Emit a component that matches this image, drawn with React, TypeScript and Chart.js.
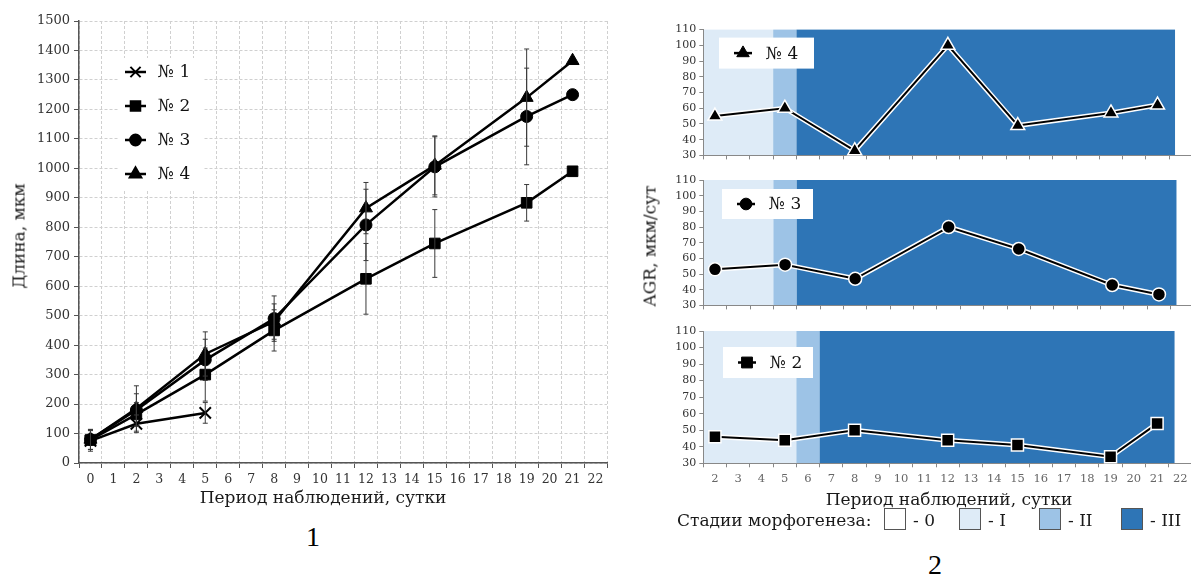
import React, { useEffect, useRef } from 'react';
import { Chart, registerables } from 'chart.js';

Chart.register(...registerables);

const FONT = "'DejaVu Serif'";

// ---------- Figure 1: length ----------
const lengthDayLabels = ['0', '1', '2', '3', '4', '5', '6', '7', '8', '9', '10', '11', '12', '13', '14', '15', '16', '17', '18', '19', '20', '21', '22'];
const seriesNames = ['№ 1', '№ 2', '№ 3', '№ 4'];
const seriesMarkers = ['crossRot', 'rect', 'circle', 'triangle'];
const seriesRadius = [8, 7.5, 6, 7.5];

const s1Days = [0, 2, 5];
const s1Length = [75, 133, 170];
const s1Err = [35, 30, 35];

const s2Days = [0, 2, 5, 8, 12, 15, 19, 21];
const s2Length = [78, 165, 300, 450, 625, 745, 883, 990];
const s2Err = [32, 40, 90, 70, 120, 115, 62, 0];

const s3Days = [0, 2, 5, 8, 12, 15, 19, 21];
const s3Length = [80, 180, 350, 490, 808, 1005, 1176, 1250];
const s3Err = [34, 55, 70, 77, 121, 102, 164, 0];

const s4Days = [0, 2, 5, 8, 12, 15, 19, 21];
const s4Length = [80, 185, 370, 480, 865, 1010, 1240, 1365];
const s4Err = [34, 77, 75, 60, 87, 100, 165, 0];

// ---------- Figure 2: AGR ----------
const agrDayLabels = ['2', '3', '4', '5', '6', '7', '8', '9', '10', '11', '12', '13', '14', '15', '16', '17', '18', '19', '20', '21', '22'];
const agrDays = [2, 5, 8, 12, 15, 19, 21];
const agrNo4 = [55, 60, 33, 100, 49, 57, 62];
const agrNo3 = [53, 56, 47, 80, 66, 43, 37];
const agrNo2 = [46, 44, 50, 44, 41, 34, 54];

const stageLabels = ['- 0', '- I', '- II', '- III'];
const stageColors = ['#ffffff', '#deebf7', '#9dc3e6', '#2e75b6'];
// [from day, to day, stage index]
const stagesNo4 = [[1.5, 4.5, 1], [4.5, 5.5, 2], [5.5, 21.75, 3]];
const stagesNo3 = [[1.5, 4.5, 1], [4.5, 5.5, 2], [5.5, 21.75, 3]];
const stagesNo2 = [[1.5, 5.5, 1], [5.5, 6.5, 2], [6.5, 21.75, 3]];

function drawMarker(ctx: CanvasRenderingContext2D, style: string, x: number, y: number, r: number) {
  ctx.beginPath();
  if (style === 'circle') {
    ctx.arc(x, y, r, 0, Math.PI * 2);
  } else if (style === 'rect') {
    const s = r * Math.SQRT1_2;
    ctx.rect(x - s, y - s, 2 * s, 2 * s);
  } else if (style === 'triangle') {
    for (let k = 0; k < 3; k++) {
      const a = (k * 2 * Math.PI) / 3;
      const px = x + Math.sin(a) * r;
      const py = y - Math.cos(a) * r;
      if (k === 0) ctx.moveTo(px, py);
      else ctx.lineTo(px, py);
    }
    ctx.closePath();
  } else if (style === 'crossRot') {
    const d = r * Math.SQRT1_2;
    ctx.moveTo(x - d, y - d);
    ctx.lineTo(x + d, y + d);
    ctx.moveTo(x - d, y + d);
    ctx.lineTo(x + d, y - d);
    ctx.stroke();
    return;
  }
  ctx.fill();
  ctx.stroke();
}

const errorBarPlugin = {
  id: 'errorBars',
  afterDatasetsDraw(chart: any) {
    const ctx = chart.ctx;
    const ys = chart.scales.y;
    ctx.save();
    ctx.strokeStyle = '#3a3a3a';
    ctx.lineWidth = 1;
    chart.data.datasets.forEach((ds: any, i: number) => {
      const errs = ds.errors;
      if (!errs) return;
      const meta = chart.getDatasetMeta(i);
      meta.data.forEach((pt: any, j: number) => {
        const e = errs[j];
        if (!e) return;
        const v = ds.data[j].y;
        const yTop = ys.getPixelForValue(v + e);
        const yBot = ys.getPixelForValue(v - e);
        const x = pt.x;
        ctx.beginPath();
        ctx.moveTo(x, yTop);
        ctx.lineTo(x, yBot);
        ctx.moveTo(x - 2.5, yTop);
        ctx.lineTo(x + 2.5, yTop);
        ctx.moveTo(x - 2.5, yBot);
        ctx.lineTo(x + 2.5, yBot);
        ctx.stroke();
      });
    });
    ctx.restore();
  },
};

const lengthLegendPlugin = {
  id: 'lengthLegend',
  beforeDatasetsDraw(chart: any) {
    const { ctx, chartArea } = chart;
    ctx.save();
    ctx.fillStyle = '#ffffff';
    ctx.fillRect(chartArea.left + 40, chartArea.top + 37, 84, 132);
    seriesNames.forEach((name, i) => {
      const cy = chartArea.top + 51 + i * 34;
      const lx = chartArea.left + 46;
      ctx.strokeStyle = '#000';
      ctx.fillStyle = '#000';
      ctx.lineWidth = 2.5;
      ctx.beginPath();
      ctx.moveTo(lx, cy);
      ctx.lineTo(lx + 21, cy);
      ctx.stroke();
      ctx.lineWidth = 2;
      drawMarker(ctx, seriesMarkers[i], lx + 10.5, cy, seriesRadius[i] * 0.9);
      ctx.fillStyle = '#111';
      ctx.font = `17px ${FONT}`;
      ctx.textAlign = 'left';
      ctx.textBaseline = 'middle';
      ctx.fillText(name, lx + 33, cy + 1);
    });
    ctx.restore();
  },
};

const plainTick = (v: any) => String(v);

function LengthChart() {
  const ref = useRef<HTMLCanvasElement>(null);
  useEffect(() => {
    if (!ref.current) return;
    const mk = (days: number[], vals: number[], errs: number[], i: number) => ({
      label: seriesNames[i],
      data: days.map((d, k) => ({ x: String(d), y: vals[k] })),
      errors: errs,
      borderColor: '#000',
      borderWidth: 2.5,
      backgroundColor: '#000',
      pointStyle: seriesMarkers[i],
      pointRadius: seriesRadius[i],
      pointBackgroundColor: '#000',
      pointBorderColor: '#000',
      pointBorderWidth: i === 0 ? 2 : 1,
      tension: 0,
      clip: false,
    });
    const chart = new Chart(ref.current, {
      type: 'line',
      data: {
        labels: lengthDayLabels,
        datasets: [
          mk(s4Days, s4Length, s4Err, 3),
          mk(s3Days, s3Length, s3Err, 2),
          mk(s2Days, s2Length, s2Err, 1),
          mk(s1Days, s1Length, s1Err, 0),
        ] as any,
      },
      options: {
        animation: false,
        responsive: false,
        layout: { padding: { top: 21, right: 13, left: 0, bottom: 0 } },
        plugins: { legend: { display: false }, tooltip: { enabled: false } },
        scales: {
          x: {
            type: 'category',
            labels: lengthDayLabels,
            offset: true,
            grid: { offset: true, color: '#d0d0d0', tickColor: '#555', tickLength: 5, lineWidth: 1 },
            border: { color: '#555', width: 1.5, dash: [3, 2] },
            ticks: { font: { family: 'DejaVu Serif', size: 12.5 }, color: '#333', padding: 4, maxRotation: 0, autoSkip: false },
            afterFit: (s: any) => { s.height = 57; },
          },
          y: {
            min: 0,
            max: 1500,
            ticks: { stepSize: 100, callback: plainTick, font: { family: 'DejaVu Serif', size: 13 }, color: '#333', padding: 4, autoSkip: false },
            grid: { color: '#d0d0d0', tickColor: '#555', tickLength: 5, lineWidth: 1 },
            border: { color: '#555', width: 1.5, dash: [3, 2] },
            afterFit: (s: any) => { s.width = 79; },
          },
        },
      } as any,
      plugins: [lengthLegendPlugin, errorBarPlugin],
    });
    return () => chart.destroy();
  }, []);
  return <canvas ref={ref} width={620} height={520} style={{ position: 'absolute', left: 0, top: 0 }} />;
}

type PanelProps = {
  canvasTop: number;
  canvasBottom: number;
  chartTop: number;
  chartBottom: number;
  values: number[];
  marker: string;
  radius: number;
  name: string;
  stages: number[][];
  showLabels: boolean;
  box: number[]; // dx, dy, w, h relative to chart area
};

function AgrPanel(p: PanelProps) {
  const ref = useRef<HTMLCanvasElement>(null);
  const left = 640;
  const width = 562;
  useEffect(() => {
    if (!ref.current) return;
    const bandPlugin = {
      id: 'bands',
      beforeDraw(chart: any) {
        const { ctx, chartArea } = chart;
        const xs = chart.scales.x;
        ctx.save();
        p.stages.forEach(([from, to, st]) => {
          const x1 = xs.getPixelForValue(from - 2);
          const x2 = xs.getPixelForValue(to - 2);
          ctx.fillStyle = stageColors[st];
          ctx.fillRect(x1, chartArea.top, x2 - x1, chartArea.bottom - chartArea.top);
        });
        ctx.restore();
      },
      beforeDatasetsDraw(chart: any) {
        const { ctx, chartArea } = chart;
        const [dx, dy, w, h] = p.box;
        const bx = chartArea.left + dx;
        const by = chartArea.top + dy;
        ctx.save();
        ctx.fillStyle = '#ffffff';
        ctx.fillRect(bx, by, w, h);
        const cy = by + h / 2;
        ctx.strokeStyle = '#000';
        ctx.lineWidth = 2.5;
        ctx.beginPath();
        ctx.moveTo(bx + 15, cy);
        ctx.lineTo(bx + 33, cy);
        ctx.stroke();
        ctx.fillStyle = '#000';
        ctx.lineWidth = 1;
        drawMarker(ctx, p.marker, bx + 24, cy, p.radius * 0.9);
        ctx.fillStyle = '#111';
        ctx.font = `17px ${FONT}`;
        ctx.textAlign = 'left';
        ctx.textBaseline = 'middle';
        ctx.fillText(p.name, bx + 47, cy + 1);
        ctx.restore();
      },
    };
    const data = agrDays.map((d, k) => ({ x: String(d), y: p.values[k] }));
    const chart = new Chart(ref.current, {
      type: 'line',
      data: {
        labels: agrDayLabels,
        datasets: [
          {
            data,
            borderColor: '#000',
            borderWidth: 2,
            pointStyle: p.marker,
            pointRadius: p.radius,
            pointBackgroundColor: '#000',
            pointBorderColor: '#fff',
            pointBorderWidth: 1.5,
            tension: 0,
            clip: false,
          },
          {
            data,
            borderColor: '#fff',
            borderWidth: 5,
            pointRadius: 0,
            tension: 0,
            clip: false,
          },
        ] as any,
      },
      options: {
        animation: false,
        responsive: false,
        layout: { padding: { top: p.chartTop - p.canvasTop, right: 4, left: 0, bottom: 0 } },
        plugins: { legend: { display: false }, tooltip: { enabled: false } },
        scales: {
          x: {
            type: 'category',
            labels: agrDayLabels,
            offset: true,
            grid: { offset: true, drawOnChartArea: false, color: '#888', tickColor: '#888', tickLength: 4 },
            border: { color: '#888', width: 1 },
            ticks: { display: p.showLabels, font: { family: 'DejaVu Serif', size: 11.5 }, color: '#666', padding: 5, maxRotation: 0, autoSkip: false },
            afterFit: (s: any) => { s.height = p.canvasBottom - p.chartBottom; },
          },
          y: {
            min: 30,
            max: 110,
            ticks: { stepSize: 10, font: { family: 'DejaVu Serif', size: 11 }, color: '#333', padding: 3, autoSkip: false },
            grid: { drawOnChartArea: false, color: '#888', tickColor: '#888', tickLength: 4 },
            border: { color: '#888', width: 1 },
            afterFit: (s: any) => { s.width = 63.3; },
          },
        },
      } as any,
      plugins: [bandPlugin],
    });
    return () => chart.destroy();
  }, []);
  return (
    <canvas
      ref={ref}
      width={width}
      height={p.canvasBottom - p.canvasTop}
      style={{ position: 'absolute', left, top: p.canvasTop }}
    />
  );
}

const textStyle = (x: number, y: number, size: number, extra: any = {}) => ({
  position: 'absolute' as const,
  left: x,
  top: y,
  transform: 'translate(-50%, -50%)',
  whiteSpace: 'nowrap' as const,
  fontFamily: "'DejaVu Serif', serif",
  fontSize: size,
  color: '#1a1a1a',
  lineHeight: 1,
  ...extra,
});

const stageBoxX = [884, 959, 1039, 1121];

export default function App() {
  return (
    <div style={{ position: 'fixed', left: 0, top: 0, width: 1191, height: 576, overflow: 'hidden', background: '#fff' }}>
      <LengthChart />
      <div style={textStyle(323, 497, 17)}>Период наблюдений, сутки</div>
      <div style={textStyle(19, 236, 17, { transform: 'translate(-50%, -50%) rotate(-90deg)' })}>Длина, мкм</div>

      <AgrPanel canvasTop={20} canvasBottom={165} chartTop={29} chartBottom={156} values={agrNo4} marker="triangle" radius={8} name="№ 4" stages={stagesNo4} showLabels={false} box={[15.7, 8, 95, 31]} />
      <AgrPanel canvasTop={170} canvasBottom={315} chartTop={180} chartBottom={306} values={agrNo3} marker="circle" radius={6.5} name="№ 3" stages={stagesNo3} showLabels={false} box={[18.7, 9, 91, 30]} />
      <AgrPanel canvasTop={320} canvasBottom={495} chartTop={331} chartBottom={463.3} values={agrNo2} marker="rect" radius={8.5} name="№ 2" stages={stagesNo2} showLabels={true} box={[19.7, 16, 90, 31]} />

      <div style={textStyle(949, 499, 17)}>Период наблюдений, сутки</div>
      <div style={textStyle(650, 246, 17, { transform: 'translate(-50%, -50%) rotate(-90deg)' })}>AGR, мкм/сут</div>

      <div style={{ position: 'absolute', left: 677, top: 519.5, transform: 'translateY(-50%)', whiteSpace: 'nowrap', fontFamily: "'DejaVu Serif', serif", fontSize: 17, color: '#1a1a1a', lineHeight: 1 }}>Стадии морфогенеза:</div>
      {stageLabels.map((lab, i) => (
        <React.Fragment key={lab}>
          <div style={{ position: 'absolute', left: stageBoxX[i], top: 508, width: 22, height: 22, boxSizing: 'border-box', border: '1.5px solid #555', background: stageColors[i] }} />
          <div style={{ position: 'absolute', left: stageBoxX[i] + 29, top: 519.5, transform: 'translateY(-50%)', whiteSpace: 'nowrap', fontFamily: "'DejaVu Serif', serif", fontSize: 17, color: '#1a1a1a', lineHeight: 1 }}>{lab}</div>
        </React.Fragment>
      ))}

      <div style={textStyle(313, 537, 28, { fontFamily: "'Liberation Serif', serif", color: '#000' })}>1</div>
      <div style={textStyle(935, 565, 28, { fontFamily: "'Liberation Serif', serif", color: '#000' })}>2</div>
    </div>
  );
}
